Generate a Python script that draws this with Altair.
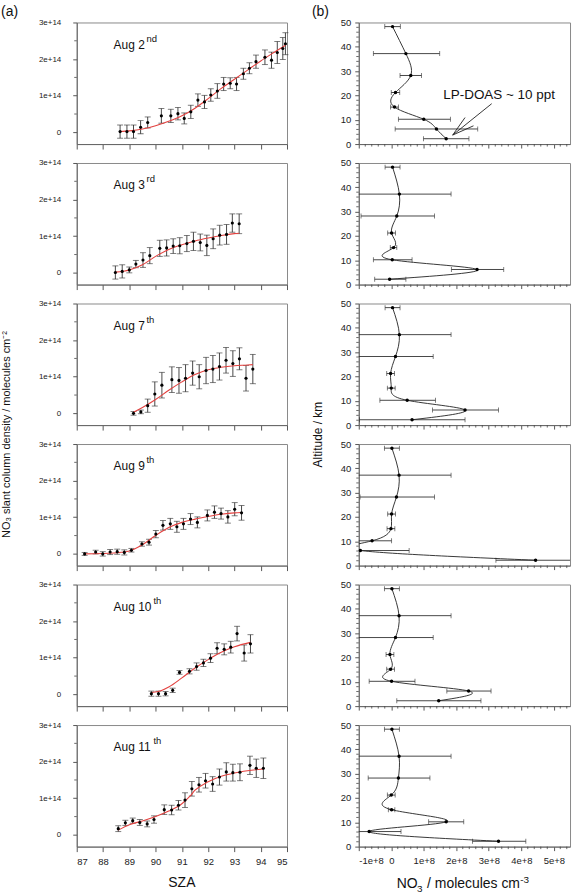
import altair as alt
import pandas as pd

FONT = "Liberation Sans"
W_L, W_R, H = 211, 212, 122
GAP_V, GAP_H = 19, 72

# ---------------- data: left column (slant columns, units of 1e14 molecules cm-2)
DATES = ["Aug 2", "Aug 3", "Aug 7", "Aug 9", "Aug 10", "Aug 11"]
SUFFIX = ["nd", "rd", "th", "th", "th", "th"]

sza02 = [88.65, 88.91, 89.16, 89.43, 89.70, 90.22, 90.58, 90.85, 91.09, 91.34, 91.61, 91.86, 92.10,
         92.35, 92.59, 92.84, 93.08, 93.34, 93.57, 93.82, 94.16, 94.41, 94.63, 94.84, 94.94]
scd02 = [0.02, 0.02, 0.02, 0.14, 0.27, 0.45, 0.45, 0.51, 0.38, 0.56, 0.88, 0.83, 1.02,
         1.13, 1.32, 1.34, 1.32, 1.60, 1.75, 1.93, 2.05, 1.97, 2.18, 2.29, 2.42]
err02 = [0.18, 0.18, 0.18, 0.18, 0.15, 0.20, 0.18, 0.17, 0.15, 0.18, 0.17, 0.18, 0.17,
         0.20, 0.18, 0.15, 0.18, 0.15, 0.15, 0.18, 0.20, 0.22, 0.30, 0.30, 0.30]
fitx02 = [88.65, 89.0, 89.5, 90.0, 90.5, 91.0, 91.5, 92.0, 92.5, 93.0, 93.5, 94.0, 94.5, 94.95]
fity02 = [0.02, 0.04, 0.09, 0.18, 0.30, 0.45, 0.66, 0.92, 1.20, 1.45, 1.70, 1.95, 2.18, 2.38]

sza03 = [88.47, 88.73, 89.0, 89.25, 89.52, 89.78, 90.16, 90.42, 90.67, 90.92, 91.19, 91.44, 91.70,
         91.95, 92.19, 92.44, 92.70, 92.92, 93.18]
scd03 = [0.01, 0.04, 0.08, 0.24, 0.35, 0.47, 0.67, 0.68, 0.73, 0.74, 0.80, 0.86, 0.83,
         0.75, 0.93, 1.03, 1.05, 1.36, 1.34]
err03 = [0.18, 0.18, 0.08, 0.10, 0.20, 0.22, 0.22, 0.22, 0.20, 0.22, 0.22, 0.25, 0.23,
         0.28, 0.27, 0.27, 0.27, 0.25, 0.27]
fitx03 = [88.47, 89.0, 89.5, 90.0, 90.5, 91.0, 91.5, 92.0, 92.5, 93.0, 93.18]
fity03 = [0.02, 0.08, 0.22, 0.45, 0.64, 0.77, 0.87, 0.95, 1.02, 1.07, 1.08]

sza07 = [89.16, 89.44, 89.70, 89.97, 90.24, 90.62, 90.89, 91.14, 91.41, 91.66, 91.92, 92.18,
         92.43, 92.68, 92.94, 93.19, 93.44, 93.70]
scd07 = [0.0, 0.04, 0.21, 0.53, 0.77, 0.92, 0.90, 0.96, 1.10, 1.00, 1.17, 1.21,
         1.28, 1.45, 1.36, 1.49, 0.96, 1.21]
err07 = [0.05, 0.05, 0.18, 0.33, 0.35, 0.35, 0.35, 0.37, 0.33, 0.33, 0.36, 0.37,
         0.37, 0.35, 0.35, 0.30, 0.35, 0.40]
fitx07 = [89.16, 89.5, 90.0, 90.5, 91.0, 91.5, 92.0, 92.5, 93.0, 93.5, 93.7]
fity07 = [0.03, 0.16, 0.38, 0.63, 0.86, 1.06, 1.19, 1.26, 1.30, 1.32, 1.33]

sza09 = [87.30, 87.72, 87.99, 88.27, 88.54, 88.81, 89.08, 89.48, 89.75, 90.01, 90.28, 90.56,
         90.81, 91.06, 91.33, 91.59, 91.97, 92.24, 92.49, 92.75, 93.01, 93.27]
scd09 = [0.0, 0.05, 0.0, 0.05, 0.06, 0.04, 0.10, 0.27, 0.32, 0.54, 0.78, 0.82,
         0.74, 0.82, 0.95, 0.86, 1.05, 1.14, 1.10, 1.01, 1.22, 1.12]
err09 = [0.04, 0.05, 0.06, 0.07, 0.07, 0.07, 0.05, 0.06, 0.08, 0.10, 0.13, 0.15,
         0.15, 0.15, 0.15, 0.15, 0.15, 0.17, 0.15, 0.17, 0.18, 0.20]
fitx09 = [87.3, 88.0, 88.5, 89.0, 89.5, 90.0, 90.5, 91.0, 91.5, 92.0, 92.5, 93.0, 93.27]
fity09 = [0.0, 0.01, 0.03, 0.08, 0.25, 0.50, 0.72, 0.86, 0.95, 1.02, 1.08, 1.12, 1.13]

sza10 = [89.84, 90.11, 90.38, 90.65, 90.91, 91.29, 91.56, 91.82, 92.09, 92.34, 92.61, 92.86,
         93.10, 93.37, 93.61]
scd10 = [0.02, 0.02, 0.02, 0.11, 0.60, 0.63, 0.76, 0.86, 0.99, 1.26, 1.23, 1.29,
         1.66, 1.13, 1.38]
err10 = [0.07, 0.07, 0.06, 0.06, 0.05, 0.07, 0.10, 0.10, 0.12, 0.15, 0.15, 0.16,
         0.20, 0.22, 0.25]
fitx10 = [89.84, 90.2, 90.5, 91.0, 91.5, 92.0, 92.5, 93.0, 93.61]
fity10 = [0.05, 0.10, 0.20, 0.45, 0.72, 0.95, 1.15, 1.30, 1.42]

sza11 = [88.58, 88.85, 89.13, 89.40, 89.68, 89.94, 90.33, 90.61, 90.87, 91.12, 91.38, 91.65,
         91.90, 92.17, 92.43, 92.69, 92.94, 93.21, 93.59, 93.83, 94.10]
scd11 = [0.17, 0.33, 0.39, 0.34, 0.30, 0.42, 0.69, 0.68, 0.81, 0.95, 1.26, 1.37,
         1.48, 1.39, 1.58, 1.72, 1.70, 1.71, 1.90, 1.82, 1.82]
err11 = [0.08, 0.07, 0.07, 0.08, 0.08, 0.10, 0.13, 0.13, 0.13, 0.20, 0.20, 0.20,
         0.20, 0.20, 0.22, 0.25, 0.23, 0.23, 0.25, 0.25, 0.28]
fitx11 = [88.58, 89.0, 89.5, 90.0, 90.5, 91.0, 91.3, 91.5, 92.0, 92.5, 93.0, 93.5, 94.1]
fity11 = [0.13, 0.28, 0.38, 0.50, 0.65, 0.85, 1.05, 1.22, 1.45, 1.60, 1.69, 1.75, 1.80]

SZA = [sza02, sza03, sza07, sza09, sza10, sza11]
SCD = [scd02, scd03, scd07, scd09, scd10, scd11]
ERR = [err02, err03, err07, err09, err10, err11]
FITX = [fitx02, fitx03, fitx07, fitx09, fitx10, fitx11]
FITY = [fity02, fity03, fity07, fity09, fity10, fity11]

# ---------------- data: right column (NO3 profiles, units of 1e8 molecules cm-3)
ALT = [48.3, 37.2, 28.2, 21.2, 15.2, 10.2, 6.2, 2.2]
no3_02 = [0.04, 0.45, 0.60, 0.13, 0.10, 1.00, 1.39, 1.69]
lo_02 = [-0.20, -0.55, 0.27, 0.00, -0.02, 0.22, 0.12, 0.99]
hi_02 = [0.28, 1.49, 0.93, 0.26, 0.22, 1.82, 2.66, 2.39]
no3_03 = [0.04, 0.25, 0.17, 0.01, 0.07, 0.03, 2.64, -0.05]
lo_03 = [-0.19, -1.1, -0.93, -0.11, -0.03, -0.55, 1.85, -0.51]
hi_03 = [0.27, 1.84, 1.33, 0.13, 0.17, 0.64, 3.46, 0.45]
no3_07 = [0.04, 0.25, 0.13, -0.02, 0.00, 0.49, 2.27, 0.64]
lo_07 = [-0.19, -1.1, -1.1, -0.14, -0.12, -0.35, 1.27, -0.98]
hi_07 = [0.27, 1.84, 1.29, 0.10, 0.12, 1.36, 3.30, 2.27]
no3_09 = [0.02, 0.24, 0.16, 0.01, -0.01, -0.59, -0.95, 4.44]
lo_09 = [-0.21, -1.1, -0.96, -0.11, -0.13, -1.1, -1.1, 3.22]
hi_09 = [0.25, 1.84, 1.33, 0.13, 0.11, 0.01, 0.55, 5.80]
no3_10 = [0.02, 0.24, 0.13, -0.04, -0.02, 0.01, 2.38, 1.46]
lo_10 = [-0.21, -1.1, -1.1, -0.16, -0.14, -0.68, 1.71, 0.17]
hi_10 = [0.25, 1.84, 1.29, 0.08, 0.10, 0.73, 3.07, 2.76]
no3_11 = [0.02, 0.24, 0.22, 0.00, 0.01, 1.69, -0.68, 3.30]
lo_11 = [-0.21, -1.1, -0.71, -0.12, -0.09, 1.15, -1.1, 2.50]
hi_11 = [0.25, 1.84, 1.19, 0.12, 0.11, 2.23, 0.30, 4.14]

NO3 = [no3_02, no3_03, no3_07, no3_09, no3_10, no3_11]
LO = [lo_02, lo_03, lo_07, lo_09, lo_10, lo_11]
HI = [hi_02, hi_03, hi_07, hi_09, hi_10, hi_11]

ANNOT_TEXT = "LP-DOAS ~ 10 ppt"
ANNOT_POS = (1.6, 20.0)
ARROWS_X = [3.09, 2.27, 2.53]
ARROWS_Y = [16.6, 10.9, 7.5]
ARROW_TIP = (1.89, 3.7)

# tick values
L_XTICKS = list(range(87, 96))
L_YTICKS = [0, 1e14, 2e14, 3e14]
L_YMINOR = [0.5e14, 1.5e14, 2.5e14]
R_XTICKS = [-1e8, 0, 1e8, 2e8, 3e8, 4e8, 5e8]
R_XMINOR = [k * 0.2e8 for k in range(-5, 28) if k % 5 != 0]
R_YTICKS = [0, 10, 20, 30, 40, 50]
R_YMINOR = [v for v in range(2, 50, 2) if v % 10 != 0]

INK = "#222222"
RED = "#e3413f"


def txt(df_text, **kw):
    return alt.Chart(pd.DataFrame({"t": [df_text]})).mark_text(font=FONT, color="#111", **kw)


def left_panel(i):
    bottom = i == 5
    df = pd.DataFrame({
        "sza": SZA[i],
        "v": [s * 1e14 for s in SCD[i]],
        "lo": [(s - e) * 1e14 for s, e in zip(SCD[i], ERR[i])],
        "hi": [(s + e) * 1e14 for s, e in zip(SCD[i], ERR[i])],
    })
    fit = pd.DataFrame({"sza": FITX[i], "v": [f * 1e14 for f in FITY[i]]})
    xs = alt.Scale(domain=[87, 95], nice=False, zero=False)
    ys = alt.Scale(domain=[-0.32e14, 3e14], nice=False, zero=False)
    xax = alt.Axis(values=L_XTICKS, labels=bottom, title=None, grid=False, tickSize=5,
                   labelPadding=5, labelFontSize=9.5, format="d")
    yax = alt.Axis(values=L_YTICKS, title=None, grid=False, tickSize=4, labelPadding=12,
                   labelFontSize=8,
                   labelExpr="datum.value == 0 ? '0' : round(datum.value / 1e14) + 'e+14'")
    X = alt.X("sza:Q", scale=xs, axis=xax)
    Y = alt.Y("v:Q", scale=ys, axis=yax)
    base = alt.Chart(df)
    bars = base.mark_rule(color="#333", strokeWidth=0.9).encode(
        x=X, y=alt.Y("lo:Q", scale=ys, axis=yax), y2="hi:Q")
    cap1 = base.mark_tick(color="#333", thickness=0.9, size=6, orient="horizontal").encode(
        x=X, y=alt.Y("lo:Q", scale=ys, axis=yax))
    cap2 = base.mark_tick(color="#333", thickness=0.9, size=6, orient="horizontal").encode(
        x=X, y=alt.Y("hi:Q", scale=ys, axis=yax))
    line = alt.Chart(fit).mark_line(color=RED, strokeWidth=1.1, interpolate="monotone").encode(x=X, y=Y)
    pts = base.mark_circle(color="black", size=10, opacity=1).encode(x=X, y=Y)
    minor = alt.Chart(pd.DataFrame({"m": L_YMINOR})).mark_rule(color="#444", strokeWidth=0.8).encode(
        y=alt.Y("m:Q", scale=ys, axis=yax), x=alt.value(-2.5), x2=alt.value(0))
    label = txt(DATES[i], align="left", baseline="alphabetic", fontSize=12).encode(
        text="t:N", x=alt.value(37), y=alt.value(26.5))
    sup_x = 37 + (33 if len(DATES[i]) == 5 else 40)
    sup = txt(SUFFIX[i], align="left", baseline="alphabetic", fontSize=9.5).encode(
        text="t:N", x=alt.value(sup_x), y=alt.value(19.5))
    layers = [bars, cap1, cap2, line, pts, minor, label, sup]
    if i == 0:
        layers.append(txt("(a)", align="left", baseline="middle", fontSize=14).encode(
            text="t:N", x=alt.value(-76), y=alt.value(-11)))
    if i == 2:
        layers.append(txt("NO\u2083 slant column density / molecules cm\u207b\u00b2", align="center",
                          baseline="middle", fontSize=11, angle=270).encode(
            text="t:N", x=alt.value(-70), y=alt.value(H + GAP_V / 2)))
    if bottom:
        layers.append(txt("SZA", align="center", baseline="alphabetic", fontSize=14).encode(
            text="t:N", x=alt.value(W_L / 2), y=alt.value(H + 41)))
    return alt.layer(*layers).properties(width=W_L, height=H)


def right_panel(i):
    bottom = i == 5
    df = pd.DataFrame({
        "alt": ALT,
        "v": [x * 1e8 for x in NO3[i]],
        "lo": [x * 1e8 for x in LO[i]],
        "hi": [x * 1e8 for x in HI[i]],
    })
    xs = alt.Scale(domain=[-1e8, 5.5e8], nice=False, zero=False)
    ys = alt.Scale(domain=[0, 50], nice=False, zero=False)
    xax = alt.Axis(values=R_XTICKS, labels=bottom, title=None, grid=False, tickSize=4,
                   labelPadding=5, labelFontSize=9.5,
                   labelExpr="datum.value == 0 ? '0' : (datum.value < 0 ? '-' : '') + round(abs(datum.value) / 1e8) + 'e+8'")
    yax = alt.Axis(values=R_YTICKS, title=None, grid=False, tickSize=4, labelPadding=4,
                   labelFontSize=9.5)
    X = alt.X("v:Q", scale=xs, axis=xax)
    Y = alt.Y("alt:Q", scale=ys, axis=yax)
    base = alt.Chart(df)
    bars = base.mark_rule(color="#333", strokeWidth=0.9, clip=True).encode(
        x=alt.X("lo:Q", scale=xs, axis=xax), x2="hi:Q", y=Y)
    cap1 = base.mark_tick(color="#333", thickness=0.9, size=5, orient="vertical", clip=True).encode(
        x=alt.X("lo:Q", scale=xs, axis=xax), y=Y)
    cap2 = base.mark_tick(color="#333", thickness=0.9, size=5, orient="vertical", clip=True).encode(
        x=alt.X("hi:Q", scale=xs, axis=xax), y=Y)
    curve = base.mark_line(color=INK, strokeWidth=0.9, interpolate="natural", clip=True).encode(
        x=X, y=Y, order="alt:Q")
    pts = base.mark_circle(color="black", size=12, opacity=1, clip=True).encode(x=X, y=Y)
    minor_y = alt.Chart(pd.DataFrame({"m": R_YMINOR})).mark_rule(color="#444", strokeWidth=0.8).encode(
        y=alt.Y("m:Q", scale=ys, axis=yax), x=alt.value(-2.5), x2=alt.value(0))
    minor_x = alt.Chart(pd.DataFrame({"m": R_XMINOR})).mark_rule(color="#444", strokeWidth=0.8).encode(
        x=alt.X("m:Q", scale=xs, axis=xax), y=alt.value(H), y2=alt.value(H + 2.5))
    layers = [bars, cap1, cap2, curve, pts, minor_y, minor_x]
    if i == 0:
        layers.append(txt("(b)", align="left", baseline="middle", fontSize=14).encode(
            text="t:N", x=alt.value(-47), y=alt.value(-11)))
        ann = pd.DataFrame({"x": [a * 1e8 for a in ARROWS_X], "y": ARROWS_Y,
                            "x2": [ARROW_TIP[0] * 1e8] * 3, "y2": [ARROW_TIP[1]] * 3})
        layers.append(alt.Chart(ann).mark_rule(color=INK, strokeWidth=0.9).encode(
            x=alt.X("x:Q", scale=xs, axis=xax), x2="x2:Q",
            y=alt.Y("y:Q", scale=ys, axis=yax), y2="y2:Q"))
        lab = pd.DataFrame({"x": [ANNOT_POS[0] * 1e8], "y": [ANNOT_POS[1]], "t": [ANNOT_TEXT]})
        layers.append(alt.Chart(lab).mark_text(font=FONT, fontSize=13.5, align="left",
                                                baseline="middle", color="#111").encode(
            x=alt.X("x:Q", scale=xs, axis=xax), y=alt.Y("y:Q", scale=ys, axis=yax), text="t:N"))
    if i == 2:
        layers.append(txt("Altitude / km", align="center", baseline="middle", fontSize=12,
                          angle=270).encode(text="t:N", x=alt.value(-41), y=alt.value(H + GAP_V / 2)))
    if bottom:
        x0 = 38
        layers.append(txt("NO", align="left", baseline="alphabetic", fontSize=14).encode(
            text="t:N", x=alt.value(x0), y=alt.value(H + 42)))
        layers.append(txt("3", align="left", baseline="alphabetic", fontSize=10).encode(
            text="t:N", x=alt.value(x0 + 20.5), y=alt.value(H + 46)))
        layers.append(txt("/ molecules cm", align="left", baseline="alphabetic", fontSize=14).encode(
            text="t:N", x=alt.value(x0 + 30.5), y=alt.value(H + 42)))
        layers.append(txt("-3", align="left", baseline="alphabetic", fontSize=10).encode(
            text="t:N", x=alt.value(x0 + 124), y=alt.value(H + 36)))
    return alt.layer(*layers).properties(width=W_R, height=H)


panels = []
for i in range(6):
    panels.append(left_panel(i))
    panels.append(right_panel(i))

chart = alt.concat(*panels, columns=2, spacing={"row": GAP_V, "column": GAP_H},
                   bounds="flush", align="each").properties(
    padding={"left": 0, "top": 2, "right": 7, "bottom": 2},
    background="white",
).configure_view(
    stroke="#8a8a8a", strokeWidth=1
).configure_axis(
    domainColor="#666", domainWidth=1, tickColor="#444", tickWidth=0.9,
    labelColor="#222", labelFont=FONT,
)

chart.save("out.html", embed_options={"renderer": "svg", "actions": False})
